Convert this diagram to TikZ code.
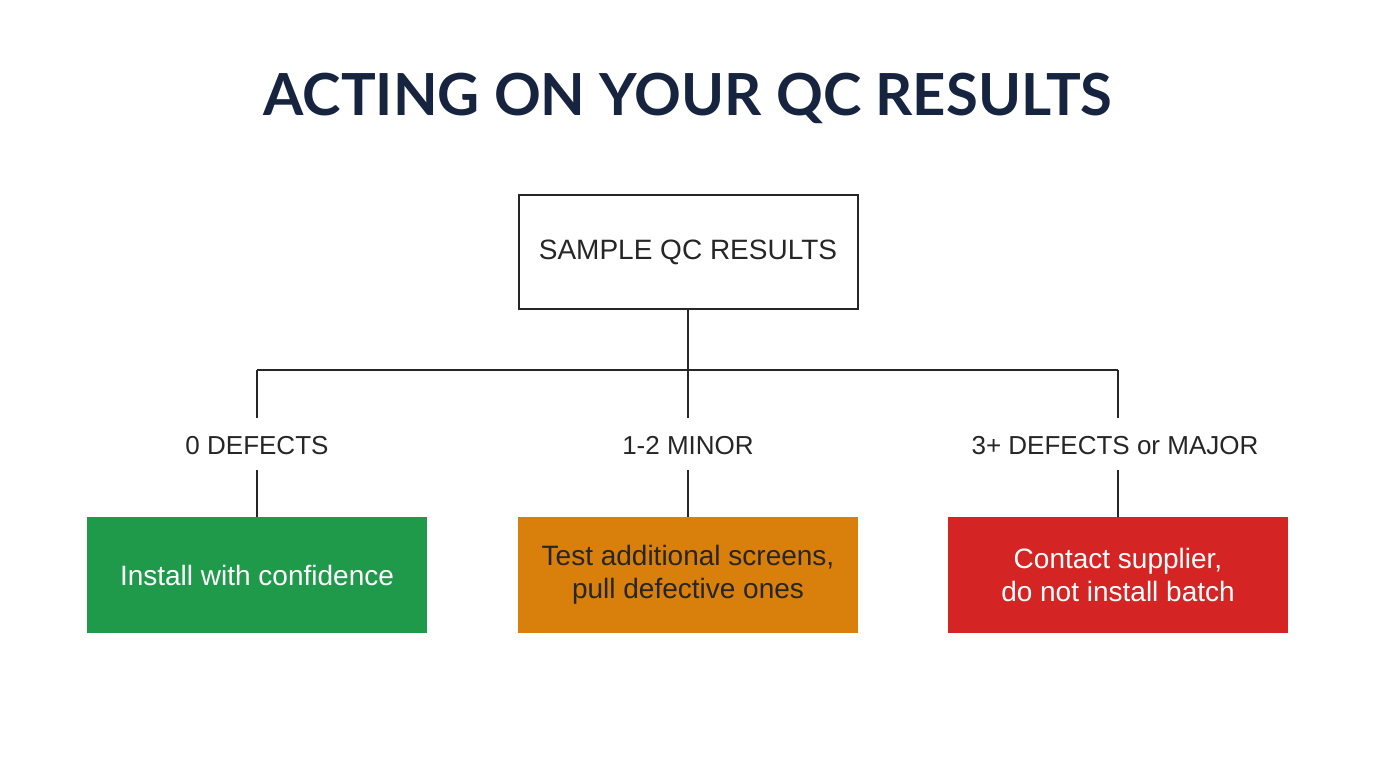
\documentclass[tikz,border=0pt]{standalone}
\usepackage{fontspec}
\setmainfont{Liberation Sans}
\newfontfamily\titlefont{Lato}
\begin{document}
\begin{tikzpicture}[x=0.5pt,y=-0.5pt,
  ln/.style={line width=1.2pt,black!85},
  lbl/.style={font=\fontsize{13}{15}\selectfont,text=black!85},
  res/.style={minimum width=170pt,minimum height=58pt,align=center,font=\fontsize{14}{16.5}\selectfont,inner sep=0pt}]
\useasboundingbox[fill=white] (0,0) rectangle (1376,768);
\node[font=\titlefont\bfseries\fontsize{29}{32}\selectfont,text={rgb,255:red,22;green,36;blue,64}] (t) at (688,98) {ACTING ON YOUR QC RESULTS};
\node[draw,line width=1pt,black!85,minimum width=169.5pt,minimum height=57pt,font=\fontsize{14}{16}\selectfont,text=black!85] (s) at (688,252) {SAMPLE QC RESULTS};
\coordinate (j) at (688,370);
\coordinate (jl) at (257,370);
\coordinate (jr) at (1118,370);
\node[lbl] (l1) at (257,446) {0 DEFECTS};
\node[lbl] (l2) at (688,446) {1-2 MINOR};
\node[lbl] (l3) at (1115,446) {3+ DEFECTS or MAJOR};
\node[res,fill={rgb,255:red,30;green,154;blue,74},text=white] (b1) at (257,575) {Install with confidence};
\node[res,fill={rgb,255:red,217;green,128;blue,12},text=black!85] (b2) at (688,575) {Test additional screens,\\pull defective ones};
\node[res,fill={rgb,255:red,212;green,36;blue,36},text=white] (b3) at (1118,575) {Contact supplier,\\do not install batch};
\draw[ln] (s.south) -- (j);
\draw[ln] (jl) -- (jr);
\draw[ln] (jl) -- (257,418);
\draw[ln] (j) -- (688,418);
\draw[ln] (jr) -- (1118,418);
\draw[ln] (257,470) -- (b1.north);
\draw[ln] (688,470) -- (b2.north);
\draw[ln] (1118,470) -- (b3.north);
\end{tikzpicture}
\end{document}
